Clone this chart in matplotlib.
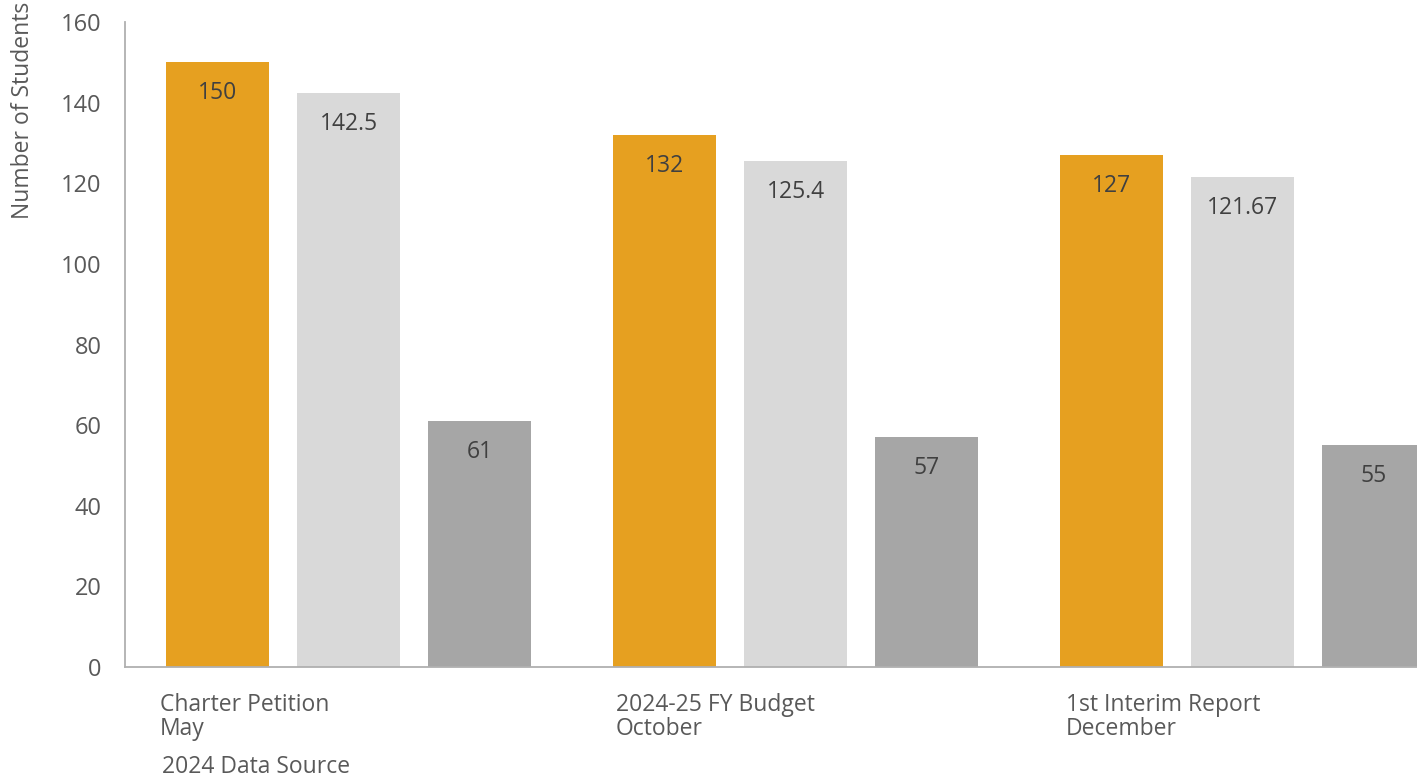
import matplotlib
matplotlib.use("Agg")
import matplotlib.pyplot as plt
import numpy as np

categories = ["Charter Petition\nMay", "2024-25 FY Budget\nOctober", "1st Interim Report\nDecember"]
series_a = [150, 132, 127]
series_b = [142.5, 125.4, 121.67]
series_c = [61, 57, 55]
labels_a = ["150", "132", "127"]
labels_b = ["142.5", "125.4", "121.67"]
labels_c = ["61", "57", "55"]
yticks = [0, 20, 40, 60, 80, 100, 120, 140, 160]

colors = ["#E6A020", "#D9D9D9", "#A6A6A6"]
txt = "#595959"
font = "Open Sans"

W, H = 1417, 779
fig = plt.figure(figsize=(W/100, H/100), dpi=100)
ax = fig.add_axes([125/W, 1-667/H, 1-125/W, (667-22)/H])

x = np.arange(len(categories))
w = 103/447
off = 131/447
for vals, labs, dx, c in [(series_a, labels_a, -off, colors[0]),
                          (series_b, labels_b, 0, colors[1]),
                          (series_c, labels_c, off, colors[2])]:
    bars = ax.bar(x + dx, vals, width=w, color=c, zorder=2)
    for b, v, l in zip(bars, vals, labs):
        ax.annotate(l, (b.get_x() + b.get_width()/2, v), xytext=(0, -31),
                    textcoords="offset pixels",
                    ha="center", va="center", fontsize=16.5, color="#404040", family=font)

ax.set_xlim(-0.5, (W-348.5)/447)
ax.set_ylim(0, 160)
ax.set_yticks(yticks)
ax.set_yticklabels([str(t) for t in yticks], fontsize=17, color=txt, family=font)
ax.tick_params(axis="y", length=0, pad=17)
ax.set_xticks([])
for s in ["top", "right"]:
    ax.spines[s].set_visible(False)
for s in ["left", "bottom"]:
    ax.spines[s].set_color("#B0B0B0")
    ax.spines[s].set_linewidth(1.3)

# category labels: x in figure pixels, y in figure pixels from top
label_px = [160, 616, 1066]
for px, cat in zip(label_px, categories):
    fig.text(px/W, 1-693/H, cat, ha="left", va="top", fontsize=16.5,
             color=txt, family=font, linespacing=0.98)

fig.text(162/W, 1-767/H, "2024 Data Source", ha="left", va="center",
         fontsize=16.5, color=txt, family=font)

fig.text(23/W, 1-2/H, "Number of Students", rotation=90, ha="center", va="top",
         fontsize=16.5, color=txt, family=font)

fig.savefig("out.png", dpi=100)
